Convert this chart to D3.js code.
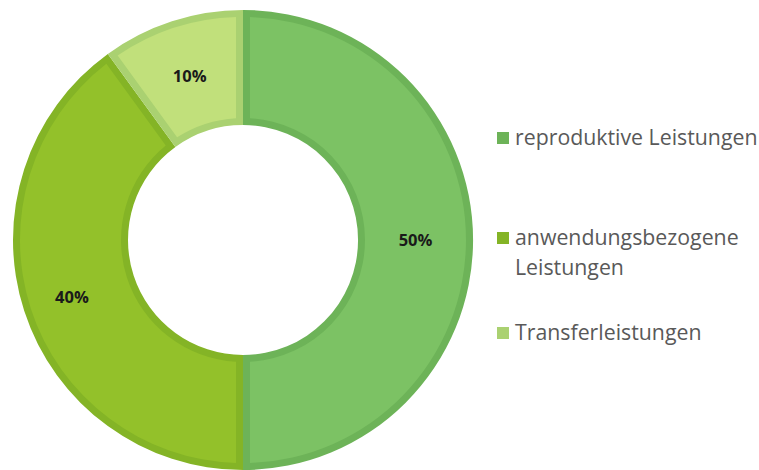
<!DOCTYPE html>
<html>
<head>
<meta charset="utf-8">
<script src="https://cdn.jsdelivr.net/npm/d3@7"></script>
<style>
  body { margin: 0; background: #fff; }
  svg { display: block; }
</style>
</head>
<body>
<div id="chart"></div>
<script>
// data
var categories = ["reproduktive Leistungen", "anwendungsbezogene Leistungen", "Transferleistungen"];
var values = [50, 40, 10];
var legendLines = [["reproduktive Leistungen"], ["anwendungsbezogene", "Leistungen"], ["Transferleistungen"]];

var fills = ["#7cc264", "#93c12a", "#c1e07b"];
var borders = ["#6db358", "#84b426", "#aad171"];

var width = 759, height = 470;
var cx = 243, cy = 240;
var outerR = 230, innerR = 115, border = 7;

var svg = d3.select("#chart").append("svg")
    .attr("width", width)
    .attr("height", height);

var data = categories.map(function(c, i) { return { name: c, value: values[i], idx: i }; });

var pie = d3.pie()
    .sort(null)
    .value(function(d) { return d.value; });

var arcs = pie(data);

// outer part in the border colour
var arcOuter = d3.arc().innerRadius(innerR).outerRadius(outerR);
// inset fill
var arcInner = d3.arc()
    .innerRadius(innerR + border)
    .outerRadius(outerR - border)
    .padRadius(100)
    .padAngle(2 * border / 100);

var g = svg.append("g").attr("transform", "translate(" + cx + "," + cy + ")");

g.selectAll("path.border")
    .data(arcs)
  .enter().append("path")
    .attr("class", "border")
    .attr("d", arcOuter)
    .attr("fill", function(d) { return borders[d.data.idx]; });

g.selectAll("path.fill")
    .data(arcs)
  .enter().append("path")
    .attr("class", "fill")
    .attr("d", arcInner)
    .attr("fill", function(d) { return fills[d.data.idx]; });

// percentage labels
var arcLabel = d3.arc().innerRadius((innerR + outerR) / 2).outerRadius((innerR + outerR) / 2);
g.selectAll("text.pct")
    .data(arcs)
  .enter().append("text")
    .attr("class", "pct")
    .attr("transform", function(d) {
      var c = arcLabel.centroid(d);
      if (d.data.idx === 1) { c[0] -= 7; c[1] += 4; }
      return "translate(" + c + ")";
    })
    .attr("text-anchor", "middle")
    .attr("dy", "0.35em")
    .style("font-family", "'Open Sans', sans-serif")
    .style("font-weight", "bold")
    .style("font-size", "16.5px")
    .style("fill", "#1a1a1a")
    .text(function(d) { return d.data.value + "%"; });

// legend
var legendY = [138, 238, 333];
var legend = svg.append("g");
var items = legend.selectAll("g")
    .data(data)
  .enter().append("g")
    .attr("transform", function(d, i) { return "translate(497," + legendY[i] + ")"; });

items.append("rect")
    .attr("x", 0)
    .attr("y", -6)
    .attr("width", 12)
    .attr("height", 12)
    .attr("fill", function(d) { return borders[d.idx]; });

items.each(function(d, i) {
  var t = d3.select(this).append("text")
      .attr("x", 18)
      .attr("y", 0)
      .style("font-family", "'Open Sans', sans-serif")
      .style("font-size", "21.3px")
      .style("fill", "#595959");
  legendLines[i].forEach(function(line, j) {
    t.append("tspan")
      .attr("x", 18)
      .attr("dy", j === 0 ? "0.35em" : "30px")
      .text(line);
  });
});
</script>
</body>
</html>
